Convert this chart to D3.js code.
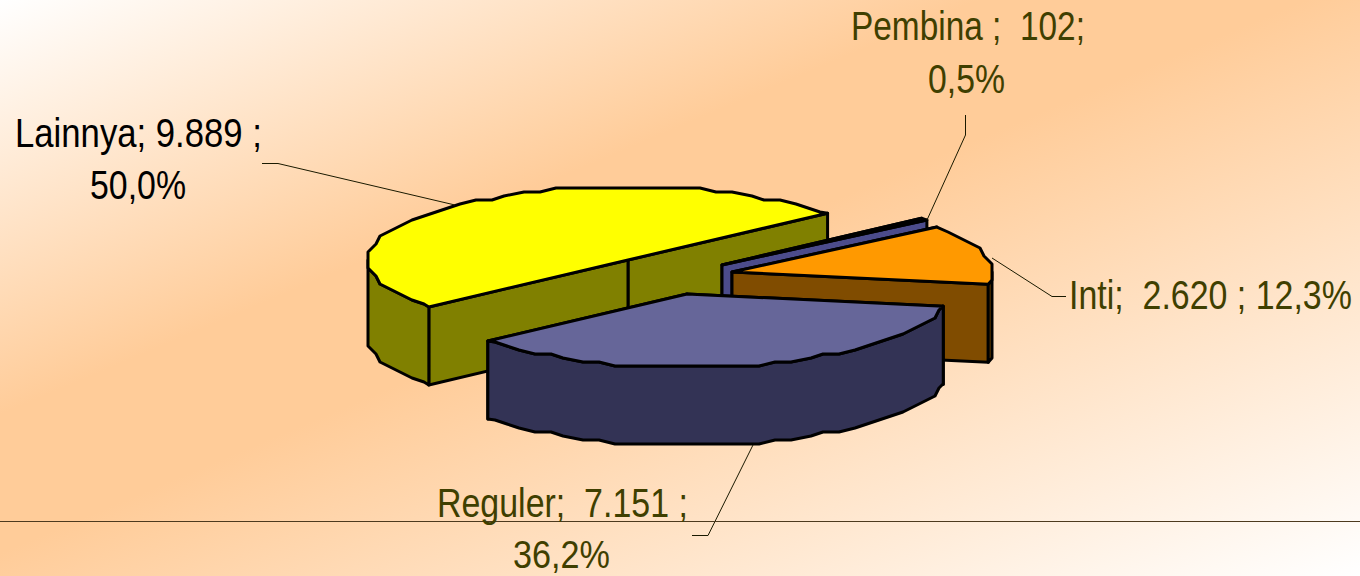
<!DOCTYPE html>
<html>
<head>
<meta charset="utf-8">
<script src="https://d3js.org/d3.v7.min.js"></script>
<style>
html,body{margin:0;padding:0;background:#fff}
svg{display:block}
text{font-family:"Liberation Sans",Arial,sans-serif;white-space:pre}
</style>
</head>
<body>
<div id="chart"></div>
<script>
// ---- data ----
const categories = ["Inti", "Reguler", "Lainnya", "Pembina"];
const values = [2620, 7151, 9889, 102];
const topColors = ["#FF9900", "#666699", "#FFFF00", "#666699"];
const sideColors = ["#804C00", "#333355", "#808000", "#4C4C8C"];
const labelColors = ["#3F3F00", "#3F3F00", "#000000", "#3F3F00"];
const labelLines = [
  ["Inti;  2.620 ; 12,3%"],
  ["Reguler;  7.151 ;", "36,2%"],
  ["Lainnya; 9.889 ;", "50,0%"],
  ["Pembina ;  102;", "0,5%"]
];

// ---- layout ----
const W = 1360, H = 576;
const Rx = 260, Ry = 73, depth = 78, grid = 4, stepDeg = 4;
const apexes = {Inti:[732,272], Reguler:[687,294], Lainnya:[628,260], Pembina:[722,265]};
const paintOrder = ["Lainnya", "Pembina", "Inti", "Reguler"];
const labelBoxes = {
  Inti:    [[1069,309,283,40]],
  Reguler: [[437,517,251,40],[513,568,97,38]],
  Lainnya: [[15,147,247,40],[90,199,96,40]],
  Pembina: [[851,40,234,40],[928,93,77,40]]
};
const leaders = [
  [[262,163.5],[278,163.5],[455,205]],
  [[965.5,115],[965.5,135],[927,220]],
  [[1066,296.5],[1052,296.5],[992,258]],
  [[753,445],[708,535.5],[692,535.5]]
];

const svg = d3.select("#chart").append("svg").attr("width", W).attr("height", H);

// background
const defs = svg.append("defs");
const grad = defs.append("linearGradient").attr("id","bg")
  .attr("x1",0).attr("y1",0).attr("x2",1).attr("y2",1);
[[0,"#FFFFFF"],[0.36,"#FFCC99"],[0.48,"#FFCC99"],[1,"#FFFFFF"]].forEach(s =>
  grad.append("stop").attr("offset",s[0]).attr("stop-color",s[1]));
svg.append("rect").attr("width",W).attr("height",H).attr("fill","url(#bg)");

// angles from d3.pie, clockwise from twelve o'clock
const rad = d => d * Math.PI / 180, deg = r => r * 180 / Math.PI;
const start = 52;
const pie = d3.pie().sort(null).startAngle(rad(start)).endAngle(rad(start + 360));
const arcs = pie(values);
const rimX = d3.scaleLinear().domain([-1,1]).range([-Rx,Rx]);
const rimY = d3.scaleLinear().domain([-1,1]).range([-Ry,Ry]);
const line = d3.line().curve(d3.curveLinear);

function rimPoint(apex, a, exact) {
  const x = rimX(Math.sin(rad(a))), y = rimY(-Math.cos(rad(a)));
  if (exact) return [apex[0]+x, apex[1]+y];
  return [apex[0]+Math.round(x/grid)*grid, apex[1]+Math.round(y/grid)*grid];
}
function rimPath(apex, a, b) {
  const pts = [rimPoint(apex,a,true)];
  let s = Math.ceil((a+0.01)/stepDeg)*stepDeg;
  for (; s < b-0.01; s += stepDeg) pts.push(rimPoint(apex,s,false));
  pts.push(rimPoint(apex,b,true));
  return pts;
}
const drop = p => [p[0], p[1]+depth];

const g = svg.append("g").attr("stroke","#000").attr("stroke-width",3)
  .attr("stroke-linejoin","round").attr("stroke-linecap","round");

paintOrder.forEach(name => {
  const i = categories.indexOf(name);
  const a0 = deg(arcs[i].startAngle), a1 = deg(arcs[i].endAngle);
  const apex = apexes[name];
  const slice = g.append("g").attr("data-name",name);
  const side = sideColors[i], top = topColors[i];

  // radial faces, farther one first
  [a0,a1].map(a => rimPoint(apex,a,true))
    .sort((p,q) => p[1]-q[1])
    .forEach(p => {
      slice.append("path")
        .attr("d", line([apex,p,drop(p),drop(apex)]) + "Z")
        .attr("fill", side);
    });

  // outer rim: the part facing the viewer (90..270 deg)
  [[90,270],[450,630]].forEach(r => {
    const lo = Math.max(a0,r[0]), hi = Math.min(a1,r[1]);
    if (hi > lo) {
      const t = rimPath(apex,lo,hi);
      slice.append("path")
        .attr("d", line(t.concat(t.map(drop).reverse())) + "Z")
        .attr("fill", side);
    }
  });

  // top face
  slice.append("path")
    .attr("d", line([apex].concat(rimPath(apex,a0,a1))) + "Z")
    .attr("fill", top);
});

// leaders
leaders.forEach(l => {
  svg.append("path").attr("d", line(l)).attr("fill","none")
    .attr("stroke","#1a1a00").attr("stroke-width",1);
});

// horizontal rule across the slide
svg.append("line").attr("x1",0).attr("x2",W).attr("y1",521.5).attr("y2",521.5)
  .attr("stroke","#4d3a1e").attr("stroke-width",1);

// labels: tall, horizontally condensed lettering
categories.forEach((name,i) => {
  labelLines[i].forEach((txt,j) => {
    const b = labelBoxes[name][j];
    const t = svg.append("text")
      .attr("font-size",b[3])
      .attr("fill",labelColors[i])
      .attr("xml:space","preserve")
      .text(txt);
    const natural = t.node().getComputedTextLength();
    t.attr("transform",`translate(${b[0]},${b[1]}) scale(${b[2]/natural},1)`);
  });
});
</script>
</body>
</html>
